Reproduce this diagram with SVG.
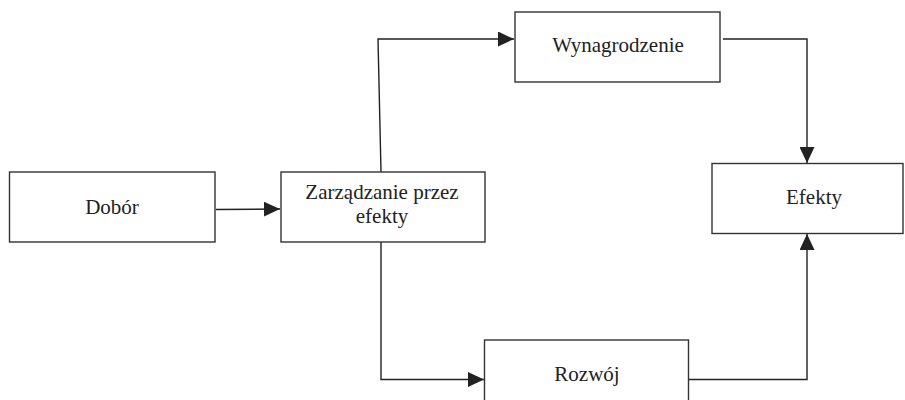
<svg xmlns="http://www.w3.org/2000/svg" width="905" height="400" viewBox="0 0 905 400">
<style>
.box{fill:#fff;stroke:#333;stroke-width:1.4}
.lbl{font-family:"Liberation Serif","Times New Roman",serif;font-size:21px;fill:#222;text-anchor:middle}
.con{fill:none;stroke:#222;stroke-width:1.4}
</style>
<defs>
<marker id="ah" markerUnits="userSpaceOnUse" markerWidth="17" markerHeight="15" refX="16" refY="7.5" orient="auto">
<path d="M0,0 L16,7.5 L0,15 z" fill="#222"/>
</marker>
</defs>
<rect width="905" height="400" fill="#fff"/>
<g id="connectors">
<path class="con" d="M216,209.5 L280,209" marker-end="url(#ah)"/>
<path class="con" d="M381,172 L378,39 L514,39" marker-end="url(#ah)"/>
<path class="con" d="M723,39 L807,39 L807,163" marker-end="url(#ah)"/>
<path class="con" d="M381,242 L381,379.5 L484,379.5" marker-end="url(#ah)"/>
<path class="con" d="M689,379.5 L807,379.5 L807,234" marker-end="url(#ah)"/>
</g>
<g id="dobor">
<rect class="box" x="9.5" y="172" width="205.5" height="70"/>
<text class="lbl" x="112" y="214">Dobór</text>
</g>
<g id="zarzadzanie">
<rect class="box" x="281" y="172" width="204" height="70"/>
<text class="lbl" x="382" y="199">Zarządzanie przez</text>
<text class="lbl" x="382" y="222.5">efekty</text>
</g>
<g id="wynagrodzenie">
<rect class="box" x="515" y="12" width="205" height="70"/>
<text class="lbl" x="618" y="52">Wynagrodzenie</text>
</g>
<g id="efekty">
<rect class="box" x="712" y="163.5" width="191" height="70"/>
<text class="lbl" x="814" y="204">Efekty</text>
</g>
<g id="rozwoj">
<rect class="box" x="484.5" y="340" width="204" height="80"/>
<text class="lbl" x="587" y="381">Rozwój</text>
</g>
</svg>
